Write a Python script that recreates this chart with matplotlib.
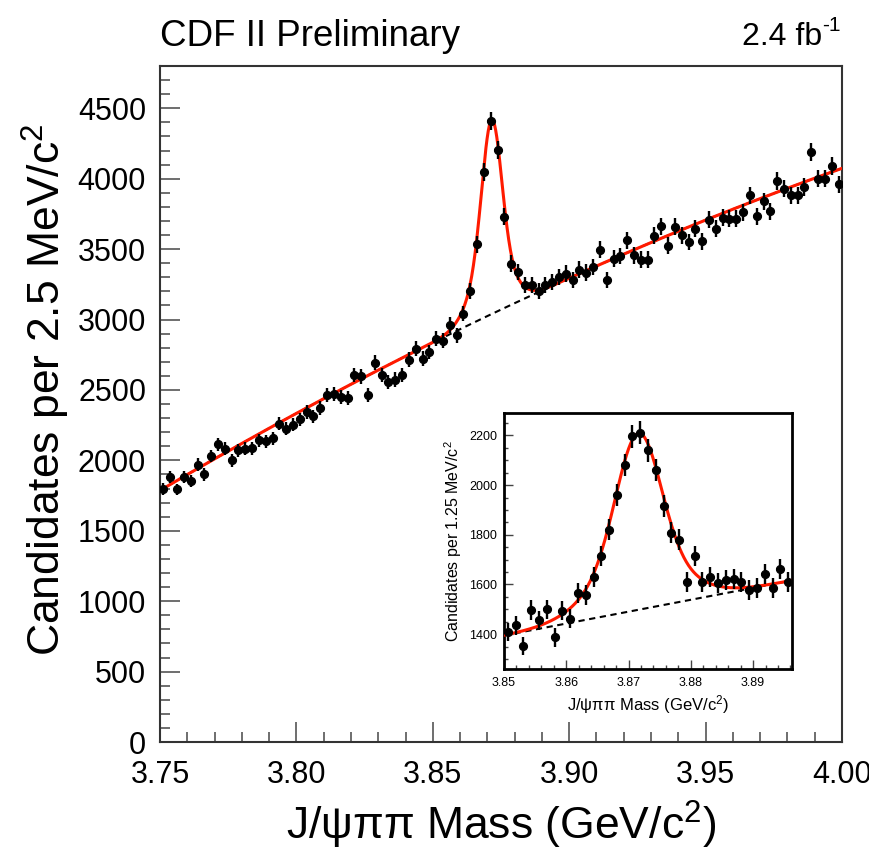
import numpy as np
import matplotlib
matplotlib.use("Agg")
import matplotlib.pyplot as plt
from matplotlib.ticker import MultipleLocator, FormatStrFormatter

plt.rcParams['font.family'] = ['Liberation Sans', 'DejaVu Sans']
plt.rcParams['mathtext.fontset'] = 'custom'
plt.rcParams['mathtext.rm'] = 'Liberation Sans'
plt.rcParams['mathtext.it'] = 'Liberation Sans:italic'
plt.rcParams['mathtext.bf'] = 'Liberation Sans:bold'

# ---------------- data: main histogram (2.5 MeV bins from 3.75 to 4.00) -------------
main_bin_lo = 3.75
main_bin_w = 0.0025
main_counts = [
    1798, 1881, 1793, 1881, 1853, 1969, 1900, 2030, 2113, 2082,
    1999, 2070, 2082, 2087, 2141, 2137, 2158, 2260, 2225, 2253,
    2291, 2343, 2312, 2372, 2461, 2473, 2449, 2442, 2608, 2596,
    2461, 2694, 2608, 2557, 2573, 2608, 2715, 2793, 2722, 2769,
    2864, 2850, 2960, 2888, 3042, 3200, 3534, 4048, 4409, 4203,
    3729, 3397, 3338, 3248, 3243, 3200, 3243, 3267, 3303, 3326,
    3279, 3355, 3333, 3373, 3495, 3279, 3432, 3452, 3563, 3456,
    3426, 3426, 3594, 3663, 3523, 3658, 3599, 3551, 3646, 3556,
    3710, 3646, 3722, 3717, 3717, 3760, 3881, 3734, 3838, 3769,
    3982, 3930, 3882, 3882, 3942, 4190, 4001, 4001, 4091, 3959,
]
# fit parameters
main_bkg_coef = [1786.0, 11400.0, -9000.0]       # polynomial in (m - 3.75)
main_peak_mean = 3.8716
main_peak_amps = [950.0, 430.0]
main_peak_sigmas = [0.0035, 0.0066]

# ---------------- data: inset histogram (1.25 MeV bins from 3.85) -------------------
inset_bin_lo = 3.85
inset_bin_w = 0.00125
inset_counts = [
    1409, 1436, 1352, 1497, 1457, 1500, 1387, 1494, 1463, 1567,
    1558, 1632, 1715, 1820, 1962, 2081, 2196, 2211, 2141, 2060,
    1917, 1809, 1780, 1611, 1715, 1611, 1629, 1605, 1618, 1621,
    1611, 1578, 1585, 1642, 1585, 1661, 1611,
]
inset_bkg_coef = [1395.0, 4785.0]                # polynomial in (m - 3.85)
inset_peak_mean = 3.8716
inset_peak_amps = [490.0, 220.0]
inset_peak_sigmas = [0.0035, 0.0066]

main_xticks = [3.75, 3.80, 3.85, 3.90, 3.95, 4.00]
main_yticks = [0, 500, 1000, 1500, 2000, 2500, 3000, 3500, 4000, 4500]
inset_xticks = [3.85, 3.86, 3.87, 3.88, 3.89]
inset_yticks = [1400, 1600, 1800, 2000, 2200]


def poly(coefs, t):
    return sum(c * t ** k for k, c in enumerate(coefs))


def peak(m, mean, amps, sigmas):
    return sum(a * np.exp(-0.5 * ((m - mean) / s) ** 2) for a, s in zip(amps, sigmas))


W, H = 869, 851
fig = plt.figure(figsize=(W / 100, H / 100), dpi=100)

def px_rect(l, t, r, b):
    return [l / W, (H - b) / H, (r - l) / W, (b - t) / H]

frame_col = '#333333'
fit_col = '#ff1a00'

# ---------------- main axes ----------------
ax = fig.add_axes(px_rect(160, 66, 842, 742))
mc = np.array(main_counts, dtype=float)
mx = main_bin_lo + (np.arange(len(mc)) + 0.5) * main_bin_w
ax.errorbar(mx, mc, yerr=np.sqrt(mc), xerr=main_bin_w / 2, fmt='o', color='black',
            ms=5.6, elinewidth=1.7, capsize=0, zorder=5)
mm = np.linspace(3.75, 4.00, 1200)
mb = poly(main_bkg_coef, mm - 3.75)
ax.plot(mm, mb, color='black', lw=1.5, ls=(0, (3, 2.2)), zorder=2)
ax.plot(mm, mb + peak(mm, main_peak_mean, main_peak_amps, main_peak_sigmas),
        color=fit_col, lw=2.2, zorder=3)
ax.set_xlim(3.75, 4.00)
ax.set_ylim(0, 4800)
ax.set_xticks(main_xticks)
ax.set_yticks(main_yticks)
ax.xaxis.set_major_formatter(FormatStrFormatter('%.2f'))
ax.xaxis.set_minor_locator(MultipleLocator(0.01))
ax.yaxis.set_minor_locator(MultipleLocator(100))
ax.tick_params(axis='both', which='both', direction='in', top=False, right=False,
               color='#555555', width=1.2)
ax.tick_params(axis='both', which='major', length=14.5, labelsize=22)
ax.tick_params(axis='both', which='minor', length=7)
ax.tick_params(axis='x', which='major', pad=13)
ax.tick_params(axis='y', which='major', pad=10)
for sp in ax.spines.values():
    sp.set_color(frame_col)
    sp.set_linewidth(1.5)

fig.text(501 / W, (H - 840) / H, r"J/ψππ Mass (GeV/c$^{\mathrm{2}}$)", fontsize=32,
         ha='center', va='baseline')
fig.text(46 / W, (H - 390) / H, r"Candidates per 2.5 MeV/c$^{\mathrm{2}}$", fontsize=32,
         ha='center', va='center', rotation=90)
fig.text(160 / W, (H - 46) / H, "CDF II Preliminary", fontsize=26.5, ha='left', va='baseline')
fig.text(822 / W, (H - 45) / H, "2.4 fb", fontsize=23, ha='right', va='baseline')
fig.text(841 / W, (H - 31) / H, "-1", fontsize=15, ha='right', va='baseline')

# ---------------- inset axes ----------------
ins = fig.add_axes(px_rect(504, 413, 792, 669))
ic = np.array(inset_counts, dtype=float)
ix = inset_bin_lo + (np.arange(len(ic)) + 0.5) * inset_bin_w
ins.errorbar(ix, ic, yerr=np.sqrt(ic), xerr=inset_bin_w / 2, fmt='o', color='black',
             ms=5.6, elinewidth=1.7, capsize=0, zorder=5)
im = np.linspace(3.85, 3.89625, 600)
ib = poly(inset_bkg_coef, im - 3.85)
ins.plot(im, ib, color='black', lw=1.5, ls=(0, (3, 2.2)), zorder=2)
ins.plot(im, ib + peak(im, inset_peak_mean, inset_peak_amps, inset_peak_sigmas),
         color=fit_col, lw=2.2, zorder=3)
ins.set_xlim(3.85, 3.89625)
ins.set_ylim(1260, 2290)
ins.set_xticks(inset_xticks)
ins.set_yticks(inset_yticks)
ins.xaxis.set_major_formatter(FormatStrFormatter('%.2f'))
ins.xaxis.set_minor_locator(MultipleLocator(0.002))
ins.yaxis.set_minor_locator(MultipleLocator(50))
ins.tick_params(axis='both', which='both', direction='in', top=False, right=False,
                color='#444444', width=1.0)
ins.tick_params(axis='both', which='major', length=6.5, labelsize=9)
ins.tick_params(axis='both', which='minor', length=3.2)
ins.tick_params(axis='x', which='major', pad=6)
ins.tick_params(axis='y', which='major', pad=5)
for sp in ins.spines.values():
    sp.set_color('black')
    sp.set_linewidth(2.0)
ins.set_xlabel(r"J/ψππ Mass (GeV/c$^{\mathrm{2}}$)", fontsize=12, labelpad=3)
ins.set_ylabel(r"Candidates per 1.25 MeV/c$^{\mathrm{2}}$", fontsize=11.5, labelpad=4)

fig.savefig("out.png", dpi=100)
